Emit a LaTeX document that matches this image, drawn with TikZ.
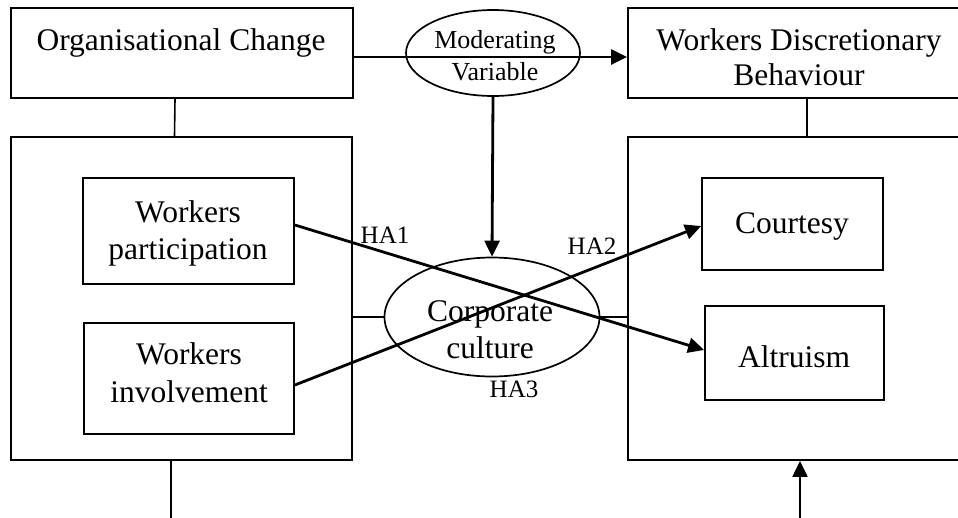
\documentclass[tikz,border=0pt]{standalone}
\usepackage{fontspec}
\setmainfont{Liberation Serif}
\usepackage{tikz}
\usetikzlibrary{arrows.meta,shapes.geometric}

\begin{document}
\begin{tikzpicture}[x=1pt,y=-1pt,
  box/.style={draw, line width=1.8pt, inner sep=0pt},
  oval/.style={draw, ellipse, line width=1.7pt, inner sep=0pt},
  txt/.style={align=center, inner sep=0pt, font=\fontsize{31.5}{35}\selectfont},
  hyp/.style={inner sep=0pt, font=\fontsize{25}{28}\selectfont},
  arr/.style={line width=2.8pt, -{Triangle[length=16pt,width=15pt]}},
  thin/.style={line width=1.6pt}]
  \useasboundingbox (0,0) rectangle (958,517);
  \clip (0,0) rectangle (958,517);

  %Define nodes
  \node[box, minimum width=342pt, minimum height=90pt] (oc) at (182,53) {};
  \node[box, minimum width=342pt, minimum height=90pt] (wdb) at (799,53) {};
  \node[box, minimum width=341pt, minimum height=323pt] (lb) at (181.5,298.5) {};
  \node[box, minimum width=342pt, minimum height=323pt] (rb) at (799,298.5) {};
  \node[box, minimum width=211pt, minimum height=106pt] (wp) at (188.5,231) {};
  \node[box, minimum width=210pt, minimum height=111pt] (wi) at (189,378.5) {};
  \node[box, minimum width=181pt, minimum height=92pt] (ct) at (792.5,224) {};
  \node[box, minimum width=179pt, minimum height=94pt] (al) at (794.5,353) {};
  \node[oval, minimum width=174pt, minimum height=86pt] (mv) at (493,53) {};
  \node[oval, minimum width=215pt, minimum height=119pt] (cc) at (492,317) {};

  % Texts
  \node[txt] (octxt) at (181,43) {Organisational Change};
  \node[txt] (wdbtxt) at (799,57) {Workers Discretionary\\Behaviour};
  \node[txt, font=\fontsize{31.5}{37}\selectfont] (wptxt) at (188,233) {Workers\\participation};
  \node[txt, font=\fontsize{31.5}{38}\selectfont] (witxt) at (189,373) {Workers\\involvement};
  \node[txt] (cttxt) at (792,226) {Courtesy};
  \node[txt] (altxt) at (794,357) {Altruism};
  \node[txt, font=\fontsize{26}{32}\selectfont] (mvtxt) at (495,56) {Moderating\\Variable};
  \node[txt, font=\fontsize{31.5}{37}\selectfont] (cctxt) at (490,330) {Corporate\\culture};
  \node[hyp] (ha1) at (385,235) {HA1};
  \node[hyp] (ha2) at (592,246) {HA2};
  \node[hyp] (ha3) at (514,389) {HA3};

  \coordinate (lbend) at (171,525);
  \coordinate (rbstart) at (800,525);

  % Connect the nodes
  \draw[arr] ([yshift=-4pt]oc.east) -- ([yshift=-4pt]wdb.west);
  \draw[arr] (mv.south) -- (cc.north);
  \draw[thin] ([xshift=-7pt]oc.south) -- ([xshift=-7pt]lb.north);
  \draw[thin] ([xshift=8pt]wdb.south) -- ([xshift=8pt]rb.north);
  \draw[thin] (cc.west) -- (cc.west -| lb.east);
  \draw[thin] (cc.east) -- (cc.east -| rb.west);
  \draw[arr] ([yshift=6pt]wp.east) -- ([yshift=3pt]al.west);
  \draw[arr] ([yshift=-6.5pt]wi.east) -- ([yshift=-2pt]ct.west);
  \draw[thin] (lbend |- lb.south) -- (lbend);
  \draw[arr, line width=2.2pt] (rbstart) -- (rbstart |- rb.south);

\end{tikzpicture}
\end{document}
